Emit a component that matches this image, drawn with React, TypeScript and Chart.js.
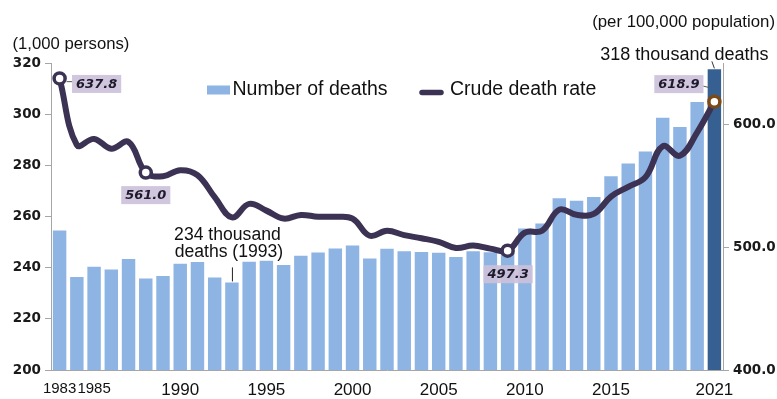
import { useEffect, useRef } from 'react';
import { Chart, registerables } from 'chart.js';

Chart.register(...registerables);

// Annual number of deaths (thousands) and crude death rate (per 100,000), 1983–2021
const years = [
  '1983', '1984', '1985', '1986', '1987', '1988', '1989', '1990', '1991', '1992',
  '1993', '1994', '1995', '1996', '1997', '1998', '1999', '2000', '2001', '2002',
  '2003', '2004', '2005', '2006', '2007', '2008', '2009', '2010', '2011', '2012',
  '2013', '2014', '2015', '2016', '2017', '2018', '2019', '2020', '2021',
];

const deathsThousands = [
  254.6, 236.4, 240.4, 239.3, 243.5, 235.8, 236.8, 241.6, 242.3, 236.2,
  234.3, 242.4, 242.8, 241.1, 244.7, 246.0, 247.6, 248.7, 243.7, 247.5,
  246.5, 246.2, 245.9, 244.2, 246.5, 246.1, 246.9, 255.4, 257.4, 267.2,
  266.3, 267.7, 275.9, 280.8, 285.5, 298.8, 295.1, 304.9, 317.7,
];

const crudeDeathRate = [
  637.8, 583.5, 588.5, 580.5, 586.0, 561.0, 558.0, 563.0, 559.0, 541.0,
  524.5, 535.5, 530.0, 523.5, 526.5, 525.0, 525.0, 523.5, 509.5, 513.5,
  510.0, 507.5, 504.5, 499.5, 501.5, 499.0, 497.3, 512.0, 513.6, 530.8,
  526.6, 527.3, 541.5, 549.4, 557.3, 582.5, 574.8, 593.9, 618.9,
];

const yearTickLabels = ['1983', '1985', '1990', '1995', '2000', '2005', '2010', '2015', '2021'];
const deathsTicks = [200, 220, 240, 260, 280, 300, 320];
const rateTicks = [400, 500, 600];

const highlightedRateYears = ['1983', '1988', '2009', '2021'];
const lowestDeathsYear = '1993';
const latestYear = '2021';

const SANS = '"Liberation Sans", Arial, sans-serif';
const BOLD_TICK = '"DejaVu Sans", Verdana, sans-serif';

const BAR_BLUE = '#8eb4e3';
const BAR_DARK = '#376092';
const LINE_PURPLE = '#3b3254';
const MARKER_BROWN = '#7a4b16';
const BOX_LAVENDER = 'rgba(204, 193, 218, 0.92)';
const AXIS_GREY = '#a6a6a6';

const isHighlighted = (i: number) => highlightedRateYears.includes(years[i]);

function drawValueBox(ctx: CanvasRenderingContext2D, text: string, cx: number, cy: number) {
  ctx.font = `italic bold 13px ${BOLD_TICK}`;
  const w = ctx.measureText(text).width + 8;
  const h = 18;
  ctx.fillStyle = BOX_LAVENDER;
  ctx.fillRect(cx - w / 2, cy - h / 2, w, h);
  ctx.fillStyle = '#1e1a2c';
  ctx.textAlign = 'center';
  ctx.textBaseline = 'middle';
  ctx.fillText(text, cx, cy + 0.5);
  return w;
}

function strokeLine(ctx: CanvasRenderingContext2D, x1: number, y1: number, x2: number, y2: number, color: string) {
  ctx.beginPath();
  ctx.moveTo(x1, y1);
  ctx.lineTo(x2, y2);
  ctx.strokeStyle = color;
  ctx.lineWidth = 1;
  ctx.stroke();
}

// Axis captions, legend, value boxes and notes
const annotationsPlugin = {
  id: 'annotations',
  afterDraw(chart: any) {
    const { ctx } = chart;
    const linePts = chart.getDatasetMeta(0).data;
    const bars = chart.getDatasetMeta(1).data;
    ctx.save();

    // unit captions
    ctx.fillStyle = '#111';
    ctx.textBaseline = 'middle';
    ctx.font = `16.7px ${SANS}`;
    ctx.textAlign = 'left';
    ctx.fillText('(1,000 persons)', 12.5, 44);
    ctx.textAlign = 'right';
    ctx.font = `16.8px ${SANS}`;
    ctx.fillText('(per 100,000 population)', 775, 22.5);

    // legend
    const ds = chart.data.datasets;
    ctx.fillStyle = BAR_BLUE;
    ctx.fillRect(207, 85.5, 23, 9);
    ctx.fillStyle = '#111';
    ctx.font = `19.5px ${SANS}`;
    ctx.textAlign = 'left';
    ctx.textBaseline = 'middle';
    ctx.fillText(ds[1].label, 232.5, 90);
    ctx.beginPath();
    ctx.moveTo(422, 92.5);
    ctx.lineTo(441, 92.5);
    ctx.lineCap = 'round';
    ctx.lineWidth = 5.5;
    ctx.strokeStyle = LINE_PURPLE;
    ctx.stroke();
    ctx.lineCap = 'butt';
    ctx.fillStyle = '#111';
    ctx.fillText(ds[0].label, 450, 90);

    // rate value boxes
    const offsets: Record<string, [number, number]> = {
      '1983': [37, 5.5],
      '1988': [0, 22.5],
      '2009': [0.5, 23.5],
      '2021': [-35.5, -17.5],
    };
    years.forEach((yr, i) => {
      if (!isHighlighted(i)) return;
      const p = linePts[i];
      const [dx, dy] = offsets[yr];
      const cx = p.x + dx;
      const cy = p.y + dy;
      const w = drawValueBox(ctx, crudeDeathRate[i].toFixed(1), cx, cy);
      if (yr === '1983') strokeLine(ctx, p.x + 7, cy - 2.3, cx - w / 2, cy - 2.3, '#555');
      if (yr === '2021') strokeLine(ctx, cx + w / 2, cy + 2, cx + w / 2 + 6, cy + 3.5, '#555');
    });

    // note on the lowest number of deaths
    const iLow = years.indexOf(lowestDeathsYear);
    const bLow = bars[iLow];
    strokeLine(ctx, bLow.x + 0.5, bLow.y - 1, bLow.x + 0.5, bLow.y - 15, '#222');
    ctx.fillStyle = '#111';
    ctx.font = `17.6px ${SANS}`;
    ctx.textAlign = 'center';
    ctx.textBaseline = 'alphabetic';
    ctx.fillText(`${Math.round(deathsThousands[iLow])} thousand`, bLow.x - 4.5, bLow.y - 42);
    ctx.fillText(`deaths (${lowestDeathsYear})`, bLow.x - 3, bLow.y - 25);

    // note on the latest year
    const iLast = years.indexOf(latestYear);
    const bLast = bars[iLast];
    strokeLine(ctx, bLast.x, bLast.y - 1, bLast.x - 2.5, bLast.y - 8, '#333');
    ctx.font = `18px ${SANS}`;
    ctx.textAlign = 'center';
    ctx.fillText(`${Math.round(deathsThousands[iLast])} thousand deaths`, bLast.x - 30, bLast.y - 9);

    ctx.restore();
  },
};

export default function App() {
  const canvasRef = useRef<HTMLCanvasElement | null>(null);

  useEffect(() => {
    document.body.style.margin = '0';
    const canvas = canvasRef.current;
    if (!canvas) return;

    const chart = new Chart(canvas, {
      type: 'bar',
      data: {
        labels: years,
        datasets: [
          {
            type: 'line',
            label: 'Crude death rate',
            data: crudeDeathRate,
            yAxisID: 'y1',
            order: 0,
            borderColor: LINE_PURPLE,
            borderWidth: 6,
            borderCapStyle: 'round',
            borderJoinStyle: 'round',
            tension: 0.4,
            pointRadius: (c: any) => (isHighlighted(c.dataIndex) ? 5.5 : 0),
            pointBorderWidth: 3.5,
            pointBackgroundColor: '#ffffff',
            pointBorderColor: (c: any) => (years[c.dataIndex] === latestYear ? MARKER_BROWN : LINE_PURPLE),
          } as any,
          {
            type: 'bar',
            label: 'Number of deaths',
            data: deathsThousands,
            yAxisID: 'y',
            order: 1,
            backgroundColor: years.map((yr) => (yr === latestYear ? BAR_DARK : BAR_BLUE)),
            categoryPercentage: 1,
            barPercentage: 0.78,
          },
        ],
      },
      options: {
        responsive: false,
        animation: false,
        devicePixelRatio: 1,
        events: [],
        layout: { padding: { top: 63.5, left: 0, right: 0, bottom: 0 } },
        plugins: {
          legend: { display: false },
          tooltip: { enabled: false },
        },
        scales: {
          x: {
            offset: true,
            grid: { display: false, drawTicks: false },
            border: { display: true, color: AXIS_GREY },
            afterFit: (s: any) => { s.height = 29; },
            ticks: {
              autoSkip: false,
              maxRotation: 0,
              minRotation: 0,
              padding: 10,
              color: '#111',
              font: (c: any) => ({
                family: SANS,
                size: c.index === 0 || c.index === 2 ? 15 : 17,
              }),
              callback: (_v: any, i: number) => (yearTickLabels.includes(years[i]) ? years[i] : ''),
            },
          },
          y: {
            position: 'left',
            min: deathsTicks[0],
            max: deathsTicks[deathsTicks.length - 1],
            afterFit: (s: any) => { s.width = 51; },
            afterBuildTicks: (s: any) => { s.ticks = deathsTicks.map((v) => ({ value: v })); },
            grid: { drawOnChartArea: false, drawTicks: true, tickLength: 6, color: AXIS_GREY },
            border: { display: true, color: AXIS_GREY },
            ticks: {
              padding: 4,
              color: '#1a1a1a',
              font: { family: BOLD_TICK, size: 13.5, weight: 'bold' },
            },
          },
          y1: {
            position: 'right',
            min: 400,
            max: 650,
            afterFit: (s: any) => { s.width = 54; },
            afterBuildTicks: (s: any) => { s.ticks = rateTicks.map((v) => ({ value: v })); },
            grid: { drawOnChartArea: false, drawTicks: true, tickLength: 6, color: AXIS_GREY },
            border: { display: true, color: AXIS_GREY },
            ticks: {
              padding: 4,
              color: '#1a1a1a',
              font: { family: BOLD_TICK, size: 13.5, weight: 'bold' },
              callback: (v: any) => Number(v).toFixed(1),
            },
          },
        },
      } as any,
      plugins: [annotationsPlugin],
    });

    return () => chart.destroy();
  }, []);

  return (
    <div style={{ width: 777, height: 399, background: '#ffffff' }}>
      <canvas ref={canvasRef} width={777} height={399} style={{ display: 'block' }} />
    </div>
  );
}
